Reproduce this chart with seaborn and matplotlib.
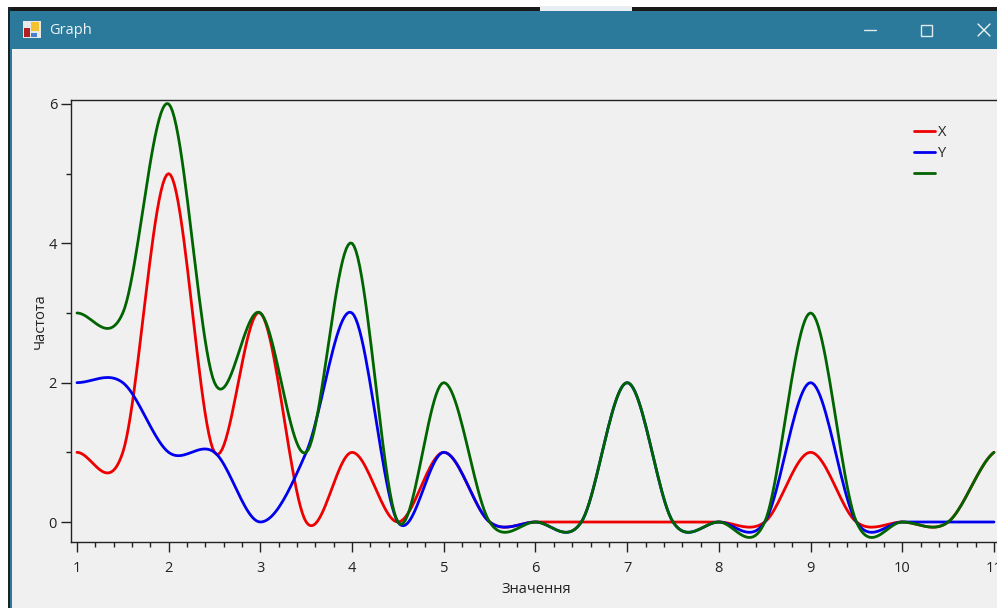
import matplotlib
matplotlib.use("Agg")
import matplotlib.pyplot as plt
from matplotlib.lines import Line2D
from matplotlib.patches import Rectangle
import numpy as np
import seaborn as sns

# values, one every 0.5 on the x axis
positions = np.arange(1, 11.5, 0.5)
x_values = [1, 1, 5, 1, 3, 0, 1, 0, 1, 0, 0, 0, 0, 0, 0, 0, 1, 0, 0, 0, 1]
y_values = [2, 2, 1, 1, 0, 1, 3, 0, 1, 0, 0, 0, 2, 0, 0, 0, 2, 0, 0, 0, 0]
sum_values = [3, 3, 6, 2, 3, 1, 4, 0, 2, 0, 0, 0, 2, 0, 0, 0, 3, 0, 0, 0, 1]

x_ticks = [1, 2, 3, 4, 5, 6, 7, 8, 9, 10, 11]
y_ticks = [0, 2, 4, 6]
series_labels = ["X", "Y", " "]
series_colors = ["#ee0000", "#0000ee", "#006400"]

W, H = 997, 608
TEAL = "#2c7a9b"
BG = "#f0f0f0"
FONT = ["Open Sans", "DejaVu Sans"]


def smooth_curve(xs, ys, per_segment=24):
    # the original control draws its lines as a cardinal spline (tension 0.5)
    xs = np.asarray(xs, dtype=float)
    ys = np.asarray(ys, dtype=float)
    slopes = np.gradient(ys, xs, edge_order=1)
    slopes[0] = 0.5 * (ys[1] - ys[0]) / (xs[1] - xs[0])
    slopes[-1] = 0.5 * (ys[-1] - ys[-2]) / (xs[-1] - xs[-2])
    out_x, out_y = [], []
    for i in range(len(xs) - 1):
        h = xs[i + 1] - xs[i]
        t = np.linspace(0, 1, per_segment, endpoint=False)
        a = 2 * t**3 - 3 * t**2 + 1
        b = t**3 - 2 * t**2 + t
        c = -2 * t**3 + 3 * t**2
        d = t**3 - t**2
        out_x.extend(xs[i] + t * h)
        out_y.extend(a * ys[i] + b * h * slopes[i] + c * ys[i + 1] + d * h * slopes[i + 1])
    out_x.append(xs[-1])
    out_y.append(ys[-1])
    return np.array(out_x), np.array(out_y)


def px_rect(fig, x0, y0, x1, y1, **kw):
    fig.add_artist(Rectangle((x0 / W, 1 - y1 / H), (x1 - x0) / W, (y1 - y0) / H,
                             transform=fig.transFigure, linewidth=kw.pop("linewidth", 0), **kw))


def px_line(fig, x0, y0, x1, y1, color, lw=1.0):
    fig.add_artist(Line2D([x0 / W, x1 / W], [1 - y0 / H, 1 - y1 / H],
                          transform=fig.transFigure, color=color, linewidth=lw))


sns.set_style("ticks", {"axes.facecolor": BG, "figure.facecolor": BG})
plt.rcParams["font.family"] = FONT

fig = plt.figure(figsize=(W / 100, H / 100), dpi=100, facecolor=BG)

# window frame
px_rect(fig, 0, 0, W, 8, facecolor="white")
px_rect(fig, 0, 0, 9, H, facecolor="white")
px_rect(fig, 8, 7, W, 11, facecolor="#1a1a1a")
px_rect(fig, 8, 7, 11, H, facecolor="#16242c")
px_rect(fig, 10, 11, 12, H, facecolor=TEAL)
px_rect(fig, 10, 11, W, 49, facecolor=TEAL)
px_rect(fig, 540, 6, 632, 11, facecolor="#e8eef2")

# title bar icon
px_rect(fig, 23, 21, 41, 38, facecolor="#e8e8e8")
px_rect(fig, 31, 22, 39, 31, facecolor="#f2c230")
px_rect(fig, 24, 28, 30, 37, facecolor="#b02020")
px_rect(fig, 31, 33, 37, 37, facecolor="#4a7fd0")
fig.text(49 / W, 1 - 30.5 / H, "Graph", color="#eef4f7", fontsize=10.5, va="center", ha="left")

# window buttons
px_line(fig, 864, 30, 876, 30, "#dfe9ee", 1.0)
px_rect(fig, 921, 24.5, 932, 35.5, facecolor="none", edgecolor="#dfe9ee", linewidth=1.0)
px_line(fig, 978, 24, 990, 36, "#eef4f7", 1.0)
px_line(fig, 978, 36, 990, 24, "#eef4f7", 1.0)

ax = fig.add_axes([71 / W, 1 - 542 / H, (W - 71 + 4) / W, (542 - 100) / H])
ax.set_facecolor(BG)

for values, label, color in zip([x_values, y_values, sum_values], series_labels, series_colors):
    cx, cy = smooth_curve(positions, values)
    sns.lineplot(x=cx, y=cy, color=color, linewidth=2.0, sort=False, estimator=None,
                 errorbar=None, ax=ax, clip_on=True)

ax.set_xlim(0.935, 1 + (W + 4 - 77) / 91.7)
ax.set_ylim(-20 / 69.67, 422 / 69.67)

ax.set_xticks(x_ticks)
ax.set_xticks(np.arange(1, 11.01, 0.2), minor=True)
ax.set_yticks(y_ticks)
ax.set_yticks([1, 3, 5], minor=True)
ax.tick_params(axis="both", which="major", length=7, width=1, color="#222222",
               labelsize=10.5, labelcolor="#222222")
ax.tick_params(axis="x", which="major", pad=6.5)
ax.tick_params(axis="y", which="major", pad=3)
ax.tick_params(axis="both", which="minor", length=3.5, width=1, color="#222222")
ax.set_xlabel("Значення", fontsize=10.5, color="#222222", labelpad=4.5)
ax.set_ylabel("Частота", fontsize=10.5, color="#222222", labelpad=1)
for side in ["left", "bottom", "top"]:
    ax.spines[side].set_visible(True)
    ax.spines[side].set_color("#222222")
    ax.spines[side].set_linewidth(1)
ax.spines["right"].set_visible(False)

handles = [Line2D([], [], color=c, linewidth=2.0) for c in series_colors]
ax.legend(handles, series_labels, frameon=False, fontsize=10.5, handlelength=1.45, handletextpad=0.2,
          labelspacing=0.42, loc="upper left", borderpad=0, borderaxespad=0,
          bbox_to_anchor=((914 - 71) / (W + 4 - 71), 1 - 25 / 442))

fig.savefig("out.png", dpi=100, facecolor=BG)
